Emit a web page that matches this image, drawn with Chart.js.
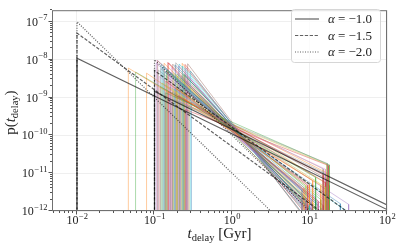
<!DOCTYPE html>
<html>
<head>
<meta charset="utf-8">
<script src="https://cdn.jsdelivr.net/npm/chart.js@4"></script>
<style>
  html, body { margin: 0; padding: 0; background: #fff; }
  #wrap { width: 399px; height: 249px; }
</style>
</head>
<body>
<div id="wrap"><canvas id="c" width="399" height="249"></canvas></div>
<script>
// reference power laws, start at t_min = 0.01 and 0.1 Gyr, run to 100 Gyr
const refLabels = ['\u03b1 = \u22121.0', '\u03b1 = \u22121.5', '\u03b1 = \u22122.0'];
const refStartT = [0.01, 0.1];
const refEndT = [100, 100];
const pStartA1 = [1.09e-8, 1.45e-9];
const pEndA1 = [1.09e-12, 1.45e-12];
const pStartA15 = [5.05e-8, 5.16e-9];
const pEndA15 = [5.05e-14, 1.63e-13];
const pStartA2 = [1.0e-7, 1.0e-8];
const pEndA2 = [1.0e-15, 1.0e-14];

// coloured delay-time curves: start time / value, end time / value
const colT0 = [0.046, 0.057, 0.14, 0.105, 0.11, 0.115, 0.12, 0.125, 0.13, 0.135,
  0.079, 0.145, 0.15, 0.155, 0.16, 0.165, 0.17, 0.175, 0.18, 0.185,
  0.19, 0.195, 0.2, 0.205, 0.21, 0.215, 0.22, 0.225, 0.23, 0.235,
  0.24, 0.245, 0.25, 0.255, 0.26, 0.265, 0.27, 0.28, 0.29, 0.3,
  0.118, 0.138, 0.148, 0.158, 0.168, 0.108, 0.178, 0.212, 0.122, 0.128,
  0.133, 0.142, 0.152, 0.162, 0.172, 0.182, 0.188, 0.198, 0.208, 0.218,
  0.228, 0.238, 0.248, 0.258, 0.268, 0.278, 0.112, 0.192];
const colP0 = [6.0e-9, 4.7e-9, 2.7e-9, 8.1e-9, 9.4e-9, 3.6e-9, 5.8e-9, 2.4e-9, 6.7e-9, 4.8e-9,
  4.4e-9, 5.3e-9, 1.43e-9, 4.1e-9, 2.6e-9, 6.2e-9, 9.0e-10, 4.3e-9, 1.7e-9, 7.3e-9,
  1.8e-9, 4.2e-9, 1.1e-9, 6.8e-9, 2.2e-9, 7.7e-10, 3.8e-9, 1.43e-9, 6.8e-9, 2.3e-9,
  9.0e-10, 3.9e-9, 4.8e-10, 6.1e-9, 1.4e-9, 3.8e-9, 5.9e-10, 2.0e-9, 5.0e-9, 7.6e-10,
  1.9e-9, 1.33e-9, 8.4e-9, 1.9e-9, 1.4e-9, 9.7e-9, 1.1e-9, 7.1e-10, 7.7e-9, 6.4e-9,
  8.0e-9, 4.9e-9, 8.3e-9, 4.6e-9, 7.6e-9, 2.7e-9, 8.3e-9, 3.7e-9, 7.7e-9, 3.3e-9,
  8.0e-9, 4.2e-9, 7.5e-9, 2.7e-9, 7.8e-9, 3.4e-9, 5.3e-9, 1.7e-9];
const colT1 = [14, 12, 9.5, 9, 11, 13, 8, 16, 10, 12,
  10, 11, 15, 10.5, 13, 9, 17, 12, 28, 10,
  8.5, 15, 16, 11, 13, 16, 12, 9, 10, 14,
  11, 9.5, 17.5, 12, 15, 10, 16, 13, 11, 25,
  17, 18, 10, 32, 16.5, 8, 15, 16.8, 10, 12,
  9, 14, 11, 13, 10, 16, 9, 12, 11, 14,
  10, 12, 9, 13, 10, 11, 17, 18];
const colP1 = [4.8e-12, 7.7e-12, 4.8e-12, 2.2e-12, 1.5e-12, 1.85e-12, 3.7e-12, 4.3e-12, 1.4e-12, 2.3e-12,
  5.0e-12, 9.3e-13, 9.0e-12, 2.05e-12, 1.8e-12, 1.4e-12, 1.8e-11, 1.4e-12, 1.1e-12, 1.1e-12,
  4.1e-12, 7e-13, 5.7e-12, 7e-13, 1.6e-12, 1.28e-11, 8.6e-13, 4.7e-12, 8e-13, 1.2e-12,
  6.3e-12, 1.25e-12, 1.6e-11, 4e-13, 1.4e-12, 8.9e-13, 9.9e-12, 9.4e-13, 3.9e-13, 1.56e-12,
  1.0e-11, 1.66e-11, 8e-13, 1.5e-12, 7.1e-12, 2.2e-12, 1.3e-11, 1.7e-11, 1.8e-12, 1.8e-12,
  1.75e-12, 2.0e-12, 1.03e-12, 1.4e-12, 1.0e-12, 2.1e-12, 1.14e-12, 1.25e-12, 5.6e-13, 8.1e-13,
  6.3e-13, 7.5e-13, 6.6e-13, 7.3e-13, 4.5e-13, 7.2e-13, 1.7e-12, 4.7e-12];

const xTickExps = [-2, -1, 0, 1, 2];
const yTickExps = [-12, -11, -10, -9, -8, -7];

const tab10 = ['#1f77b4', '#ff7f0e', '#2ca02c', '#d62728', '#9467bd',
  '#8c564b', '#e377c2', '#7f7f7f', '#bcbd22', '#17becf'];
const SERIF = '"Liberation Serif", "DejaVu Serif", serif';
const refColor = 'rgba(0,0,0,0.62)';
const refDash = [[], [3.3, 1.6], [1, 1.5]];

function rgba(hex, a) {
  const n = parseInt(hex.slice(1), 16);
  return `rgba(${n >> 16},${(n >> 8) & 255},${n & 255},${a})`;
}

// vertical rise at the start, straight run, vertical drop at the end
function seg(t0, p0, t1, p1) {
  return [{x: t0, y: 1e-20}, {x: t0, y: p0}, {x: t1, y: p1}, {x: t1, y: 1e-20}];
}

const datasets = [];
const refStart = [pStartA1, pStartA15, pStartA2];
const refEnd = [pEndA1, pEndA15, pEndA2];
refLabels.forEach((lab, s) => {
  refStartT.forEach((t0, k) => {
    datasets.push({
      label: lab,
      data: seg(t0, refStart[s][k], refEndT[k], refEnd[s][k]),
      borderColor: refColor,
      borderWidth: 1.2,
      borderDash: refDash[s]
    });
  });
});
colT0.forEach((t0, i) => {
  datasets.push({
    data: seg(t0, colP0[i], colT1[i], colP1[i]),
    borderColor: rgba(tab10[(i + 1) % 10], 0.4),
    borderWidth: 1
  });
});

function drawPow(ctx, exp, x, baseY, align) {
  const e = exp < 0 ? '\u2212' + Math.abs(exp) : String(exp);
  ctx.font = '12px ' + SERIF;
  const wb = ctx.measureText('10').width;
  ctx.font = '8.5px ' + SERIF;
  const we = ctx.measureText(e).width;
  const start = align === 'right' ? x - wb - we : x - (wb + we) / 2;
  ctx.textAlign = 'left';
  ctx.font = '12px ' + SERIF;
  ctx.fillText('10', start, baseY);
  ctx.font = '8.5px ' + SERIF;
  ctx.fillText(e, start + wb + 0.5, baseY - 5.5);
}

// draw pieces of text [text, font, dy] in a row centred on cx
function drawRow(ctx, parts, cx, baseY) {
  let total = 0;
  parts.forEach(p => { ctx.font = p[1]; total += ctx.measureText(p[0]).width; });
  let x = cx - total / 2;
  ctx.textAlign = 'left';
  parts.forEach(p => {
    ctx.font = p[1];
    ctx.fillText(p[0], x, baseY + p[2]);
    x += ctx.measureText(p[0]).width;
  });
}

const decor = {
  id: 'decor',
  afterDatasetsDraw(chart) {
    const {ctx, chartArea: a, scales: {x, y}} = chart;
    ctx.save();
    // frame
    ctx.strokeStyle = '#707070';
    ctx.lineWidth = 1;
    ctx.strokeRect(a.left + 0.5, a.top + 0.5, a.right - a.left - 1, a.bottom - a.top - 1);

    // tick marks, major and minor
    ctx.strokeStyle = '#555';
    ctx.beginPath();
    for (let e = -3; e <= 2; e++) {
      for (let m = 1; m <= 9; m++) {
        const v = m * Math.pow(10, e);
        if (v < x.min || v > x.max * 1.0001) continue;
        const px = Math.round(x.getPixelForValue(v)) - 0.5;
        ctx.moveTo(px, a.bottom);
        ctx.lineTo(px, a.bottom + (m === 1 ? 3.5 : 2));
      }
    }
    for (let e = -12; e <= -7; e++) {
      for (let m = 1; m <= 9; m++) {
        const v = m * Math.pow(10, e);
        if (v < y.min * 0.9999 || v > y.max) continue;
        const py = Math.round(y.getPixelForValue(v)) - 0.5;
        ctx.moveTo(a.left, py);
        ctx.lineTo(a.left - (m === 1 ? 3.5 : 2), py);
      }
    }
    ctx.stroke();

    // tick labels
    ctx.fillStyle = '#222';
    xTickExps.forEach(e => drawPow(ctx, e, x.getPixelForValue(Math.pow(10, e)), a.bottom + 13, 'center'));
    yTickExps.forEach(e => drawPow(ctx, e, a.left - 5, y.getPixelForValue(Math.pow(10, e)) + 4, 'right'));

    // axis titles
    const big = '15px ' + SERIF, it = 'italic 15px ' + SERIF, sub = '10.5px ' + SERIF;
    drawRow(ctx, [['t', it, 0], ['delay', sub, 3], [' [Gyr]', big, 0]], (a.left + a.right) / 2, 238);
    ctx.save();
    ctx.translate(15, (a.top + a.bottom) / 2 + 2);
    ctx.rotate(-Math.PI / 2);
    drawRow(ctx, [['p(', big, 0], ['t', it, 0], ['delay', sub, 3], [')', big, 0]], 0, 0);
    ctx.restore();

    // legend box, upper right inside the axes
    ctx.beginPath();
    ctx.roundRect(291.5, 9.5, 89, 53, 3);
    ctx.fillStyle = 'rgba(255,255,255,0.8)';
    ctx.fill();
    ctx.strokeStyle = '#d6d6d6';
    ctx.stroke();
    const rows = [19, 35.5, 52];
    refLabels.forEach((lab, s) => {
      ctx.beginPath();
      ctx.setLineDash(refDash[s]);
      ctx.strokeStyle = refColor;
      ctx.lineWidth = 1.2;
      ctx.moveTo(295, rows[s]);
      ctx.lineTo(319, rows[s]);
      ctx.stroke();
      ctx.setLineDash([]);
      ctx.fillStyle = '#222';
      drawRow(ctx, [[lab.slice(0, 1), 'italic 13px ' + SERIF, 0], [lab.slice(1), '13px ' + SERIF, 0]], 350, rows[s] + 4);
    });
    ctx.restore();
  }
};

new Chart(document.getElementById('c'), {
  type: 'line',
  data: {datasets: datasets},
  options: {
    responsive: false,
    animation: false,
    events: [],
    layout: {padding: {top: 4, right: 12, left: 0, bottom: 0}},
    elements: {point: {radius: 0}, line: {tension: 0}},
    plugins: {legend: {display: false}, tooltip: {enabled: false}},
    scales: {
      x: {
        type: 'logarithmic',
        min: 0.00476,
        max: 100,
        afterBuildTicks: s => { s.ticks = xTickExps.map(e => ({value: Math.pow(10, e), major: true})); },
        afterFit: s => { s.height = 38; },
        ticks: {callback: () => '', autoSkip: false, maxRotation: 0},
        grid: {color: '#ebebeb', lineWidth: 0.8, drawTicks: false},
        border: {display: false}
      },
      y: {
        type: 'logarithmic',
        min: 1e-12,
        max: 2.03e-7,
        afterBuildTicks: s => { s.ticks = yTickExps.map(e => ({value: Math.pow(10, e), major: true})); },
        afterFit: s => { s.width = 52; },
        ticks: {callback: () => '', autoSkip: false},
        grid: {color: '#ebebeb', lineWidth: 0.8, drawTicks: false},
        border: {display: false}
      }
    }
  },
  plugins: [decor]
});
</script>
</body>
</html>
